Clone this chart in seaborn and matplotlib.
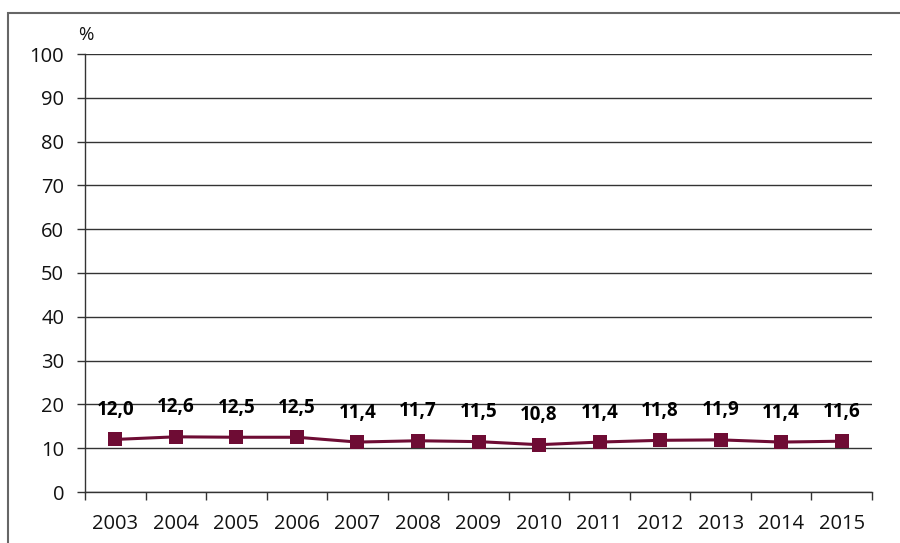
import matplotlib
matplotlib.use("Agg")
import matplotlib.pyplot as plt
import seaborn as sns
import pandas as pd
import numpy as np
from matplotlib.patches import Rectangle

years = ["2003", "2004", "2005", "2006", "2007", "2008", "2009",
         "2010", "2011", "2012", "2013", "2014", "2015"]
values = [12.0, 12.6, 12.5, 12.5, 11.4, 11.7, 11.5, 10.8, 11.4, 11.8, 11.9, 11.4, 11.6]
yticks = [0, 10, 20, 30, 40, 50, 60, 70, 80, 90, 100]

sns.set_theme(style="white")
plt.rcParams['font.family'] = ['Open Sans', 'DejaVu Sans']

df = pd.DataFrame({"pos": np.arange(len(years)), "value": values})

fig = plt.figure(figsize=(9, 5.43), dpi=100)
ax = fig.add_axes([85/900, 1-492/543, (872-85)/900, (492-54)/543])

color = "#6E0C34"
sns.lineplot(data=df, x="pos", y="value", ax=ax, color=color, lw=2.2,
             marker="s", markersize=10, markeredgewidth=0, markerfacecolor=color)

ax.set_xlim(-0.5, len(years) - 0.5)
ax.set_ylim(0, 100)
ax.set_yticks(yticks)
ax.set_yticklabels([str(t) for t in yticks], fontsize=14.5)
ax.set_xticks(np.arange(len(years)))
ax.set_xticklabels(years, fontsize=14.5)
ax.set_xticks(np.arange(len(years) + 1) - 0.5, minor=True)
ax.tick_params(axis="x", which="major", length=0, pad=16, colors="#111111")
ax.tick_params(axis="x", which="minor", length=6, width=1, color="#333333", direction="out", bottom=True)
ax.tick_params(axis="y", which="major", length=6, width=1, color="#333333", direction="out", left=True, pad=9, colors="#111111")
ax.set_xlabel("")
ax.set_ylabel("")

ax.yaxis.grid(True, color="#333333", lw=1)
ax.set_axisbelow(True)
for s in ["top", "right"]:
    ax.spines[s].set_visible(False)
for s in ["left", "bottom"]:
    ax.spines[s].set_color("#333333")
    ax.spines[s].set_linewidth(1)

for i, v in enumerate(values):
    ax.annotate(f"{v:.1f}".replace(".", ","), (i, v), xytext=(0, 14), textcoords="offset points",
                ha="center", va="bottom", fontsize=13.5, fontweight="bold", color="#000000")

ax.text(-0.009, 1.022, "%", transform=ax.transAxes, ha="left", va="bottom", fontsize=13.5, color="#111111")

fig.patches.append(Rectangle((8/900, -0.1), 1.2, (1-13/543) + 0.1, transform=fig.transFigure,
                             fill=False, edgecolor="#666666", lw=1.5, zorder=-1))

fig.savefig("out.png", dpi=100)
